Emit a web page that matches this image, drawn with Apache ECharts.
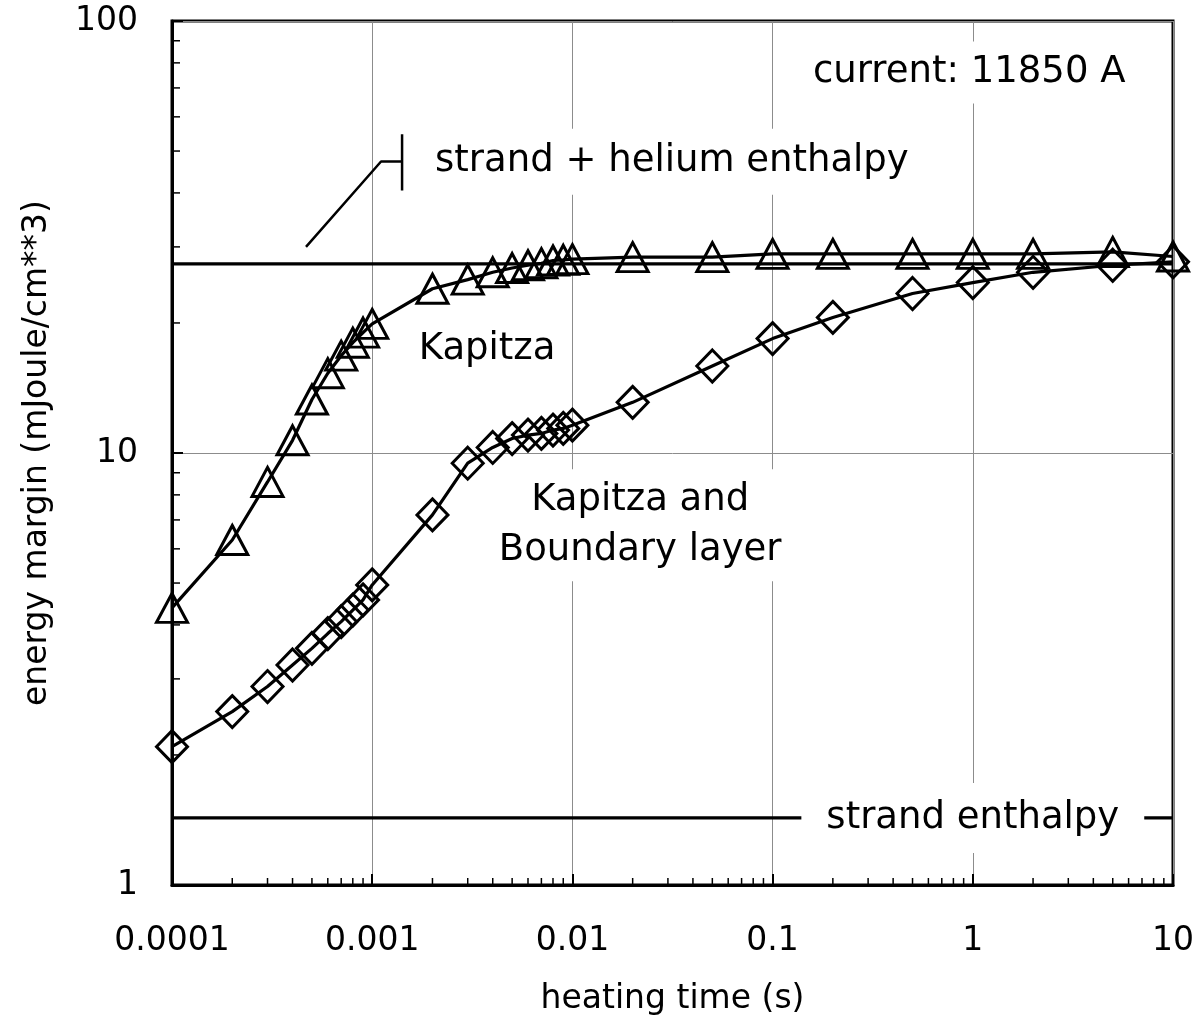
<!DOCTYPE html>
<html><head><meta charset="utf-8">
<script src="https://cdn.jsdelivr.net/npm/echarts@6/dist/echarts.min.js"></script>
<style>html,body{margin:0;padding:0;background:#fff}#c{width:1195px;height:1017px}</style>
</head><body><div id="c"></div>
<script>
// heating time (s)
const heatingTime = [0.0001,0.0002,0.0003,0.0004,0.0005,0.0006,0.0007,0.0008,0.0009,
  0.001,0.002,0.003,0.004,0.005,0.006,0.007,0.008,0.009,
  0.01,0.02,0.05,0.1,0.2,0.5,1,2,5,10];
// energy margin, Kapitza only (triangles)
const kapitza = [4.38,6.29,8.57,10.7,13.3,15.3,16.8,18.0,19.0,
  19.9,24.0,25.2,26.2,26.8,27.2,27.5,27.9,28.0,
  28.1,28.4,28.4,28.9,28.9,28.9,28.9,28.9,29.2,28.5];
// energy margin, Kapitza and boundary layer (diamonds)
const kapitzaBoundary = [2.09,2.52,2.88,3.23,3.53,3.82,4.07,4.33,4.57,
  4.95,7.19,9.47,10.3,10.8,11.0,11.1,11.3,11.4,
  11.6,13.1,15.9,18.4,20.6,23.4,24.8,26.2,27.2,27.7];
const strandHeliumEnthalpy = 27.4;
const strandEnthalpy = 1.43;
const xTickLabels = ['0.0001','0.001','0.01','0.1','1','10'];
const yTickLabels = ['1','10','100'];
const xMinorTicks = [0.0002,0.0003,0.0004,0.0005,0.0006,0.0007,0.0008,0.0009,
  0.002,0.003,0.004,0.005,0.006,0.007,0.008,0.009,
  0.02,0.03,0.04,0.05,0.06,0.07,0.08,0.09,
  0.2,0.3,0.4,0.5,0.6,0.7,0.8,0.9,
  2,3,4,5,6,7,8,9];
const yMinorTicks = [2,3,4,5,6,7,8,9,20,30,40,50,60,70,80,90];
const leaderLine = [[0.000467,30.0],[0.001107,47.3],[0.00141,47.3]];
const leaderBar = [[0.00141,54.7],[0.00141,40.5]];

const X_MIN = 0.0001, X_MAX = 10, Y_MIN = 1, Y_MAX = 100;
const FONT = '"DejaVu Sans", Verdana, sans-serif';

const chart = echarts.init(document.getElementById('c'), null, {renderer:'canvas'});

function zip(xs, ys){ return xs.map((x,i)=>[x, ys[i]]); }

const option = {
  animation: false,
  backgroundColor: '#fff',
  grid: {left:172, top:21, right:22, bottom:132, show:true, borderColor:'#000', borderWidth:3,
    containLabel:false, outerBoundsMode:'none'},
  xAxis: {
    type:'log', logBase:10, min:X_MIN, max:X_MAX,
    name:'heating time (s)', nameLocation:'middle', nameGap:98,
    nameTextStyle:{fontFamily:FONT, fontSize:33, color:'#000'},
    axisLine:{show:true, lineStyle:{color:'#000', width:3}},
    axisTick:{show:true, inside:true, length:11, lineStyle:{color:'#000', width:2}},
    axisLabel:{show:true, margin:40, fontFamily:FONT, fontSize:33, color:'#000',
      formatter:(v)=> xTickLabels[Math.round(Math.log10(v)) + 4] },
    splitLine:{show:true, lineStyle:{color:'#8c8c8c', width:1}},
    minorTick:{show:false}
  },
  yAxis: {
    type:'log', logBase:10, min:Y_MIN, max:Y_MAX,
    name:'energy margin (mJoule/cm**3)', nameLocation:'middle', nameGap:118,
    nameTextStyle:{fontFamily:FONT, fontSize:33, color:'#000'},
    axisLine:{show:true, lineStyle:{color:'#000', width:3}},
    axisTick:{show:true, inside:true, length:11, lineStyle:{color:'#000', width:2}},
    axisLabel:{show:true, margin:34, fontFamily:FONT, fontSize:33, color:'#000',
      formatter:(v)=> yTickLabels[Math.round(Math.log10(v))] },
    splitLine:{show:true, lineStyle:{color:'#8c8c8c', width:1}}
  },
  series: [
    {type:'line', silent:true, data:[[X_MIN,strandHeliumEnthalpy],[X_MAX,strandHeliumEnthalpy]],
      symbol:'none', lineStyle:{color:'#000', width:3.2}, z:3},
    {type:'line', silent:true, data:[[X_MIN,strandEnthalpy],[X_MAX,strandEnthalpy]],
      symbol:'none', lineStyle:{color:'#000', width:3.2}, z:3},
    {type:'line', silent:true, data:leaderLine, symbol:'none', lineStyle:{color:'#000', width:2.5}, z:3},
    {type:'line', silent:true, data:leaderBar, symbol:'none', lineStyle:{color:'#000', width:2.5}, z:3},
    {type:'line', name:'Kapitza', silent:true, data:zip(heatingTime, kapitza),
      symbol:'triangle', symbolSize:[31,29], showAllSymbol:true, clip:false,
      itemStyle:{color:'rgba(0,0,0,0)', borderColor:'#000', borderWidth:3},
      lineStyle:{color:'#000', width:3.2}, z:4},
    {type:'line', name:'Kapitza and Boundary layer', silent:true, data:zip(heatingTime, kapitzaBoundary),
      symbol:'diamond', symbolSize:[31,32], showAllSymbol:true, clip:false,
      itemStyle:{color:'rgba(0,0,0,0)', borderColor:'#000', borderWidth:3},
      lineStyle:{color:'#000', width:3.2}, z:4},
    {type:'custom', silent:true, clip:false, z:5,
      data: xMinorTicks.map(v=>[v, Y_MIN]),
      renderItem:(params, api)=>{
        const p = api.coord([api.value(0), api.value(1)]);
        return {type:'line', shape:{x1:p[0], y1:p[1], x2:p[0], y2:p[1]-7}, style:{stroke:'#000', lineWidth:1.5}};
      }},
    {type:'custom', silent:true, clip:false, z:5,
      data: yMinorTicks.map(v=>[X_MIN, v]),
      renderItem:(params, api)=>{
        const p = api.coord([api.value(0), api.value(1)]);
        return {type:'line', shape:{x1:p[0], y1:p[1], x2:p[0]+8, y2:p[1]}, style:{stroke:'#000', lineWidth:1.5}};
      }}
  ]
};
chart.setOption(option);

const annotations = [
  {text:'current: 11850 A', at:[0.96, 76], pad:[6,10]},
  {text:'strand + helium enthalpy', at:[0.0314, 47.2], pad:[8,10]},
  {text:'Kapitza', at:[0.00375, 17.4], pad:[4,6]},
  {text:'Kapitza and\nBoundary layer', at:[0.0218, 6.8], pad:[6,8]},
  {text:'strand enthalpy', at:[1, strandEnthalpy], pad:[10,25]}
];
chart.setOption({
  graphic: annotations.map(a=>{
    const p = chart.convertToPixel({gridIndex:0}, a.at);
    return {type:'text', x:p[0], y:p[1], z:100, silent:true,
      style:{text:a.text, font:'37px ' + FONT, fill:'#000', align:'center', verticalAlign:'middle',
        backgroundColor:'#fff', padding:a.pad, lineHeight:50}};
  })
});
</script></body></html>
